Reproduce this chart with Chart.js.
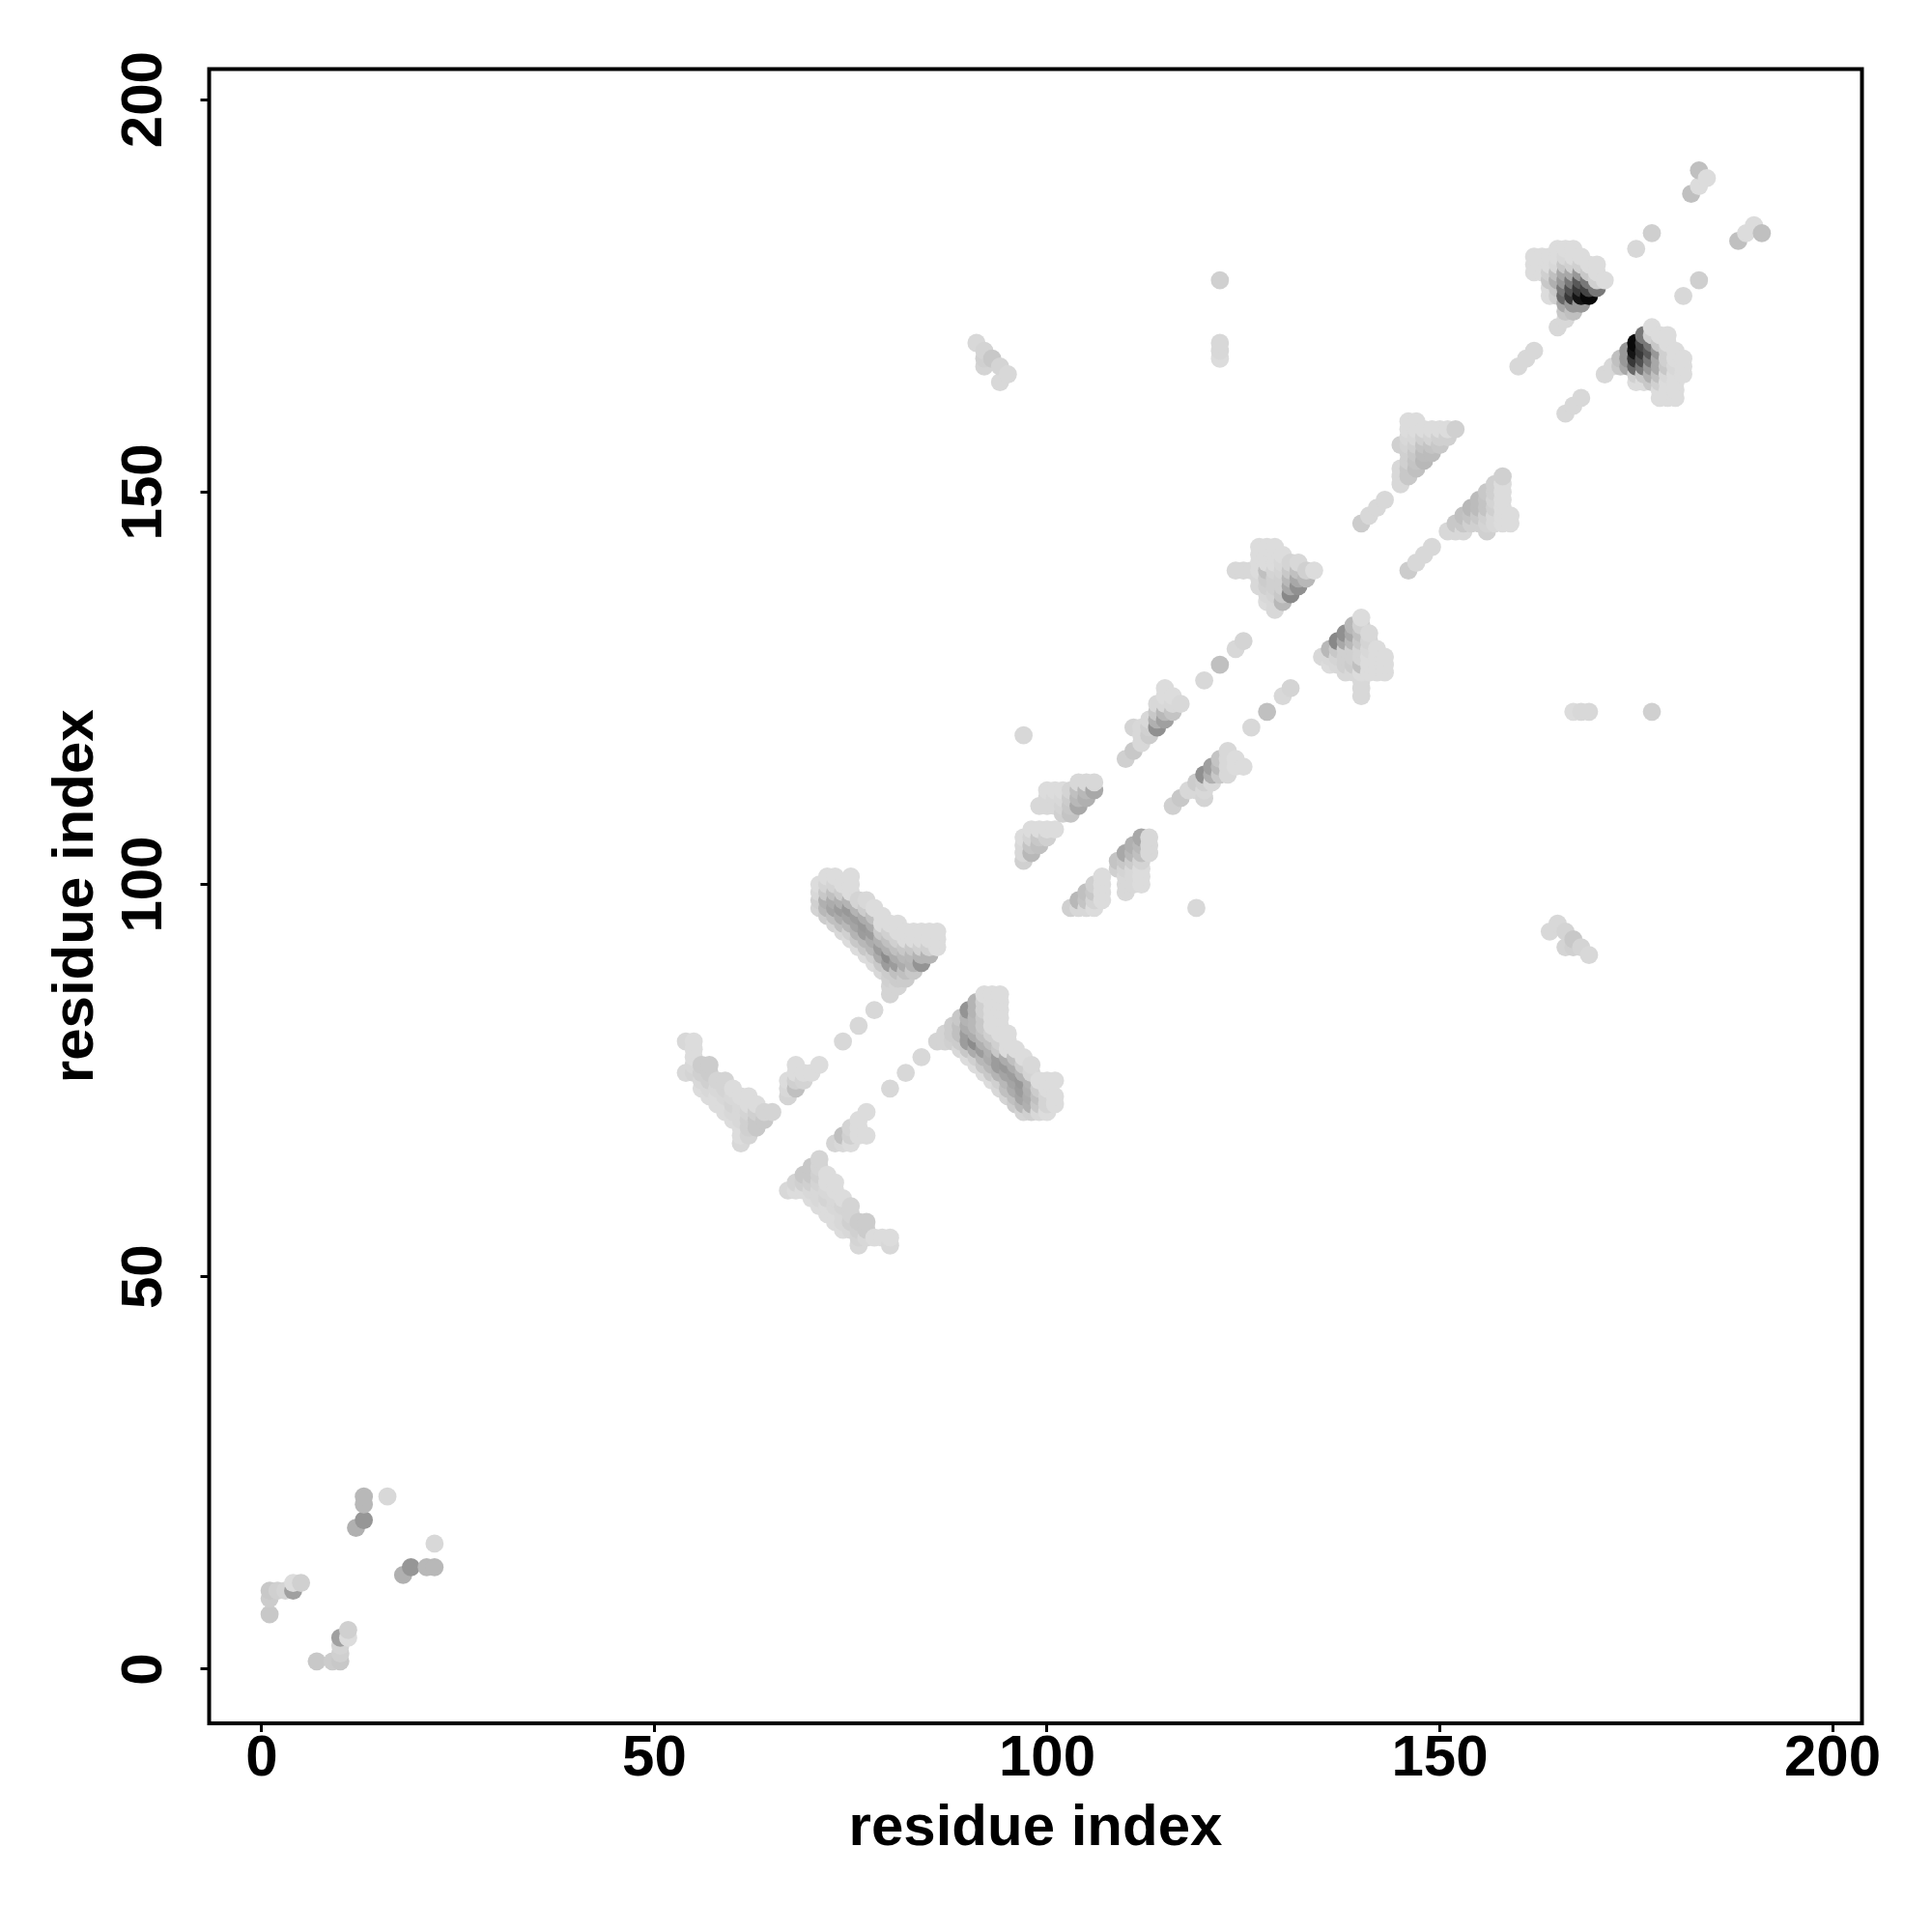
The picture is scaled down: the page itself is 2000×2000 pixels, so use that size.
<!DOCTYPE html>
<html><head><meta charset="utf-8">
<style>html,body{margin:0;padding:0;background:#fff}canvas{display:block}</style>
<script src="https://cdn.jsdelivr.net/npm/chart.js@4/dist/chart.umd.min.js"></script>
</head><body>
<div style="width:2000px;height:2000px"><canvas id="c" width="2000" height="2000"></canvas></div>
<script>
// Each entry: [residue x, first residue y, grey levels for y, y+1, ...]. Upper triangle; the map is symmetric.
const nTerminal = [
 [1,7,0xc8],[1,9,0xcc,0xc8],[2,10,0xd0],[3,10,0xd4],[4,10,0xa0,0xdc],[5,11,0xd0],
 [12,18,0xb0],[13,19,0x96],[13,21,0xb8,0xb8],[16,22,0xd8]];
const sheetA = [
 [54,76,0xd8],[54,80,0xd8],[55,76,0xd4,0xd8,0xdc,0xdc,0xdc],[56,74,0xdc,0xd8,0xd0,0xcc],
 [57,73,0xdc,0xd8,0xd0,0xcc,0xcc],[58,72,0xdc,0xdc,0xd8,0xd4],[59,71,0xdc,0xdc,0xd8,0xd4,0xd4],
 [60,70,0xdc,0xd8,0xd4,0xd8,0xdc],[61,67,0xd8,0xdc,0xdc,0xd8,0xd8,0xd8,0xdc],
 [62,68,0xd4,0xd0,0xd0,0xd4,0xdc,0xdc],[63,69,0xc8,0xc8,0xd0,0xdc],[64,70,0xc8,0xd4],[65,71,0xd4]];
const sheetB = [
 [67,73,0xd4,0xd8,0xdc],[68,74,0xc0,0xd0,0xdc,0xdc],[69,75,0xd4,0xdc],[70,76,0xdc],[71,77,0xdc],
 [74,80,0xd8],[76,82,0xd8],[78,84,0xd8]];
const hairpin = [
 [71,97,0xd4,0xd0,0xd8,0xdc],[72,96,0xcc,0xb8,0xb0,0xc8,0xd4,0xdc],[73,95,0xd4,0xc0,0xa4,0xac,0xc0,0xd4,0xdc],
 [74,94,0xd8,0xc0,0xac,0x9c,0xb0,0xcc,0xdc],[75,93,0xdc,0xd0,0xb8,0xa4,0x98,0xb4,0xdc,0xdc,0xdc],
 [76,92,0xdc,0xc8,0xb4,0xa4,0x9c,0xb4,0xd4],[77,91,0xdc,0xc8,0xb8,0x9c,0x98,0xac,0xcc,0xd8],
 [78,90,0xdc,0xd0,0xb8,0xac,0x9c,0xac,0xc0,0xdc],[79,89,0xd8,0xc8,0xac,0x9c,0xb0,0xc8,0xdc,0xdc],
 [80,86,0xd4,0xd4,0xd0,0xcc,0x9c,0x8c,0xb0,0xc0,0xd0,0xdc],[81,87,0xd4,0xcc,0xc0,0x9c,0xac,0xc0,0xd0,0xdc,0xdc],
 [82,88,0xcc,0xc0,0xac,0xb8,0xc8,0xdc,0xdc],[83,89,0xc8,0xb4,0xb8,0xc8,0xdc,0xdc],
 [84,90,0x94,0xb4,0xd0,0xdc,0xdc],[85,91,0xb4,0xd0,0xdc,0xdc],[86,92,0xdc,0xdc,0xdc]];
const helixA = [
 [97,103,0xd0,0xd8,0xd8,0xdc],[98,104,0xb8,0xc4,0xd4,0xdc],[99,105,0xc0,0xc8,0xdc],[100,106,0xd0,0xdc],[101,107,0xdc],
 [99,110,0xd8],[100,110,0xd8,0xd8,0xdc],[101,110,0xd8,0xd8,0xdc],[102,109,0xd0,0xd4,0xd8,0xdc],
 [103,109,0xc4,0xc8,0xcc,0xd4],[104,110,0xa8,0xb8,0xc0,0xd8],[105,111,0xb0,0xb8,0xd8],[106,112,0xa8,0xd8]];
const helixB = [
 [97,119,0xd8],[110,116,0xd0],[111,117,0xc8],[111,120,0xd4],[112,118,0xd8,0xd8,0xd8],[113,119,0xcc,0xd0,0xd8],
 [114,120,0x90,0xb0,0xc8,0xd8],[115,121,0xa0,0xb8,0xd8,0xdc,0xdc],[116,122,0xc4,0xd8,0xdc],[117,123,0xd8],
 [120,126,0xd8],[122,128,0xc0],[124,130,0xd8],[125,131,0xd4]];
const helixC = [
 [124,140,0xd8],[125,140,0xd8],[126,140,0xd8],[127,138,0xd8,0xd8,0xdc,0xdc,0xdc,0xdc],
 [128,136,0xdc,0xd8,0xd0,0xcc,0xc0,0xdc,0xdc,0xdc],[129,135,0xd8,0xd8,0xd4,0xd0,0xd0,0xd4,0xdc,0xdc,0xdc],
 [130,136,0xb8,0xc8,0xd0,0xd0,0xd4,0xd8,0xdc],[131,137,0x88,0xa8,0xb8,0xc8,0xd4],[132,138,0x90,0xa8,0xc0,0xd8],
 [133,139,0xb8,0xd0],[134,140,0xdc]];
const helixD = [
 [140,146,0xcc],[141,147,0xd8],[142,148,0xd8],[143,149,0xd8],[145,151,0xd8,0xd8,0xd8],[145,156,0xd0],
 [146,152,0xc8,0xc8,0xd0,0xd0,0xd4,0xd8,0xdc,0xdc],[147,153,0xc0,0xc4,0xc8,0xd0,0xd8,0xdc,0xdc],
 [148,154,0xb8,0xbc,0xc4,0xd0,0xdc],[149,155,0xbc,0xc4,0xd4,0xdc],[150,156,0xc8,0xd0,0xdc],[151,157,0xd0,0xdc],[152,158,0xd0]];
const helixE = [
 [160,166,0xd8],[161,167,0xd8],[162,168,0xd8],[162,178,0xdc,0xdc,0xdc],[163,178,0xdc,0xdc,0xdc],
 [164,175,0xdc,0xdc,0xc8,0xd0,0xdc,0xdc],[165,171,0xd8],[165,175,0xd0,0xc8,0xb0,0xc0,0xd8,0xdc,0xdc],
 [166,172,0xd8,0xc8,0xa8,0x68,0x78,0x98,0xa8,0xc8,0xd8,0xdc],[167,173,0xc0,0x98,0x38,0x50,0x78,0xa8,0xd0,0xdc,0xdc],
 [168,174,0x98,0x14,0x38,0x58,0x98,0xd0,0xdc],[169,175,0x08,0x44,0x78,0xc8,0xdc],[170,176,0x78,0xd0,0xdc,0xdc],[171,177,0xdc]];
const cTerminal = [
 [175,181,0xd8],[177,183,0xcf],[182,188,0xc0],[183,189,0xdc],[183,191,0xc0],[184,190,0xdc]];
const longRange = [
 [91,169,0xd8],[92,166,0xd4,0xd0,0xd4],[93,167,0xc8],[94,164,0xd8],[94,166,0xd4],[95,165,0xd8],
 [122,167,0xdc,0xd8,0xd8],[122,177,0xd0]];
const tickValues = [0,50,100,150,200];
const axisTitle = 'residue index';

const clusters = [nTerminal,sheetA,sheetB,hairpin,helixA,helixB,helixC,helixD,helixE,cTerminal,longRange];
const pts = [];
for (const cl of clusters) for (const [x,y0,...g] of cl) g.forEach((v,k)=>{
  pts.push({x:x,y:y0+k,g:v}); pts.push({x:y0+k,y:x,g:v});
});
pts.sort((a,b)=>a.x-b.x||a.y-b.y);

const boxPlugin = {id:'box',afterDatasetsDraw(ch){const a=ch.chartArea,c=ch.ctx;c.save();c.strokeStyle='#000';c.lineWidth=4;c.strokeRect(a.left,a.top,a.right-a.left,a.bottom-a.top);c.restore();}};
const font={family:'"Liberation Sans"',size:60,weight:'bold'};
const grid={display:true,drawOnChartArea:false,drawTicks:true,tickLength:9,tickWidth:3,tickColor:'#000',color:'#000',lineWidth:3};
new Chart(document.getElementById('c'),{
 type:'scatter',
 data:{datasets:[{data:pts.map(p=>({x:p.x,y:p.y})),
   pointBackgroundColor:pts.map(p=>`rgb(${p.g},${p.g},${p.g})`),
   pointBorderWidth:0,pointRadius:9.4,pointHoverRadius:9.4}]},
 plugins:[boxPlugin],
 options:{responsive:false,animation:false,devicePixelRatio:1,
  layout:{padding:{left:0,right:72.5,top:71.5,bottom:0}},
  plugins:{legend:{display:false},tooltip:{enabled:false},title:{display:false}},
  scales:{
   x:{type:'linear',min:-6.70,max:203.75,grid:grid,border:{display:false},
      afterBuildTicks(s){s.ticks=tickValues.map(v=>({value:v}));},
      afterFit(s){s.height=216;},
      ticks:{color:'#000',font:font,padding:-8,autoSkip:false,maxRotation:0,minRotation:0,callback:v=>String(v)},
      title:{display:true,text:axisTitle,color:'#000',font:font,padding:{top:0,bottom:71}}},
   y:{type:'linear',min:-6.90,max:203.90,grid:grid,border:{display:false},
      afterBuildTicks(s){s.ticks=tickValues.map(v=>({value:v}));},
      afterFit(s){s.width=216.5;},
      ticks:{color:'#000',font:font,padding:6.5,autoSkip:false,minRotation:90,maxRotation:90,crossAlign:'center',callback:v=>String(v)},
      title:{display:true,text:axisTitle,color:'#000',font:font,padding:{top:43,bottom:0}}}
  }}
});
</script>
</body></html>
